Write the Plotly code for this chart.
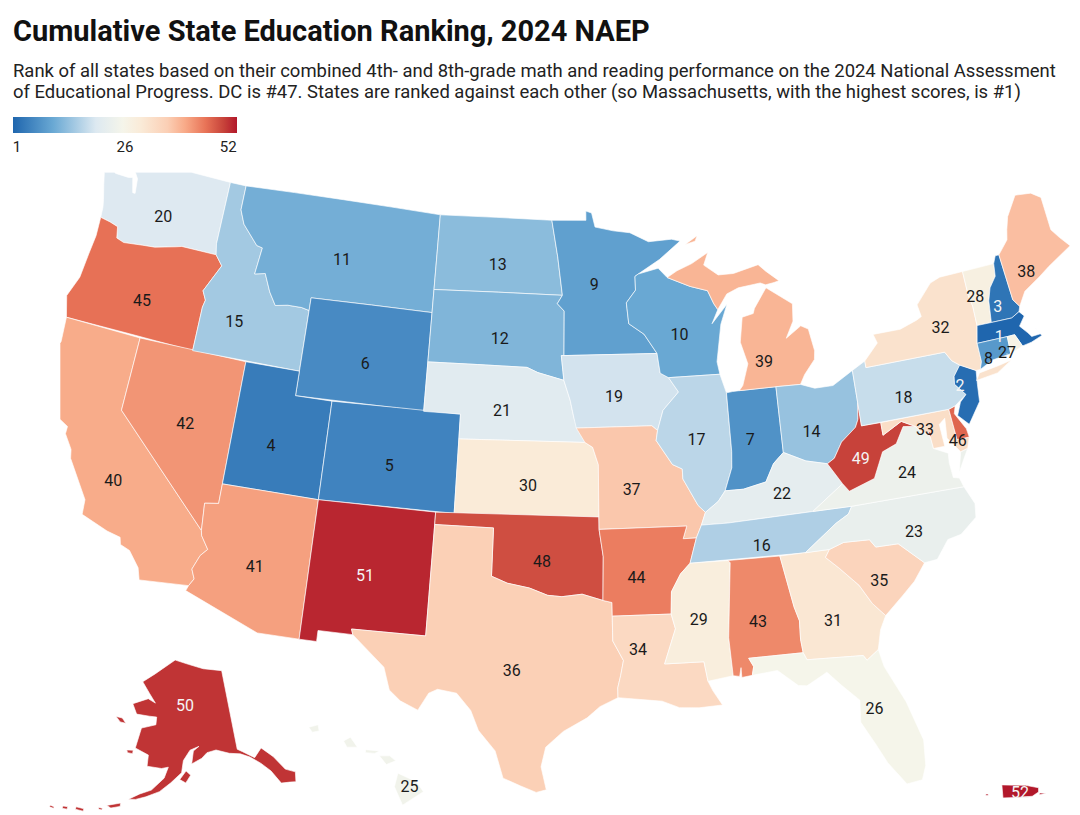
import plotly.graph_objects as go
from plotly.colors import sample_colorscale

TITLE = "<b>Cumulative State Education Ranking, 2024 NAEP</b>"
SUBTITLE_1 = "Rank of all states based on their combined 4th- and 8th-grade math and reading performance on the 2024 National Assessment"
SUBTITLE_2 = "of Educational Progress. DC is #47. States are ranked against each other (so Massachusetts, with the highest scores, is #1)"

states = ["WA","OR","CA","NV","ID","MT","WY","UT","CO","AZ","NM","ND","SD","NE","KS","OK","TX","MN","IA","MO","AR","LA",
          "WI","IL","IN","MI","OH","KY","TN","MS","AL","GA","FL","SC","NC","VA","WV","MD","DE","DC","PA","NJ","NY","VT",
          "NH","ME","MA","CT","RI"]
ranks = [20,45,40,42,15,11,6,4,5,41,51,13,12,21,30,48,36,9,19,37,44,34,
         10,17,7,39,14,22,16,29,43,31,26,35,23,24,49,33,46,47,18,2,32,28,
         3,38,1,8,27]
ak_rank = 50
hi_rank = 25
pr_rank = 52

label_lon = [-120.45,-120.4,-119.5,-116.55,-115.1,-109.6,-107.5,-111.9,-105.6,-111.7,-106.25,-100.4,-100.1,-99.8,-98.3,-97.5,-98.85,-94.7,-93.7,-92.9,-92.8,-92.85,
             -89.9,-89.35,-86.5,-85.3,-83.2,-85.15,-86.45,-89.85,-87.0,-83.4,-82.05,-80.9,-78.8,-78.6,-80.85,-77.25,-75.7,-77.0,-78.05,-74.95,-75.3,-73.0,
             -71.9,-69.85,-72.25,-73.1,-72.05]
label_lat = [46.95,43.42,36.12,39.03,43.45,46.67,42.6,38.8,38.63,33.9,34.15,47.07,44.07,41.17,38.2,35.13,30.73,46.3,41.75,38.0,34.45,31.57,
             44.15,39.9,39.7,42.75,39.75,37.4,35.43,32.65,32.4,32.1,28.3,33.4,35.13,37.5,38.37,39.07,38.35,38.9,40.5,40.5,42.95,43.85,
             43.25,44.3,42.05,41.3,41.35]
white_labels = [1, 2, 3, 49, 50, 51, 52]

# rank colours, blue for the top of the table and red for the bottom
rank_colorscale = [[0.0,"#1f66ae"],[0.18,"#6aa9d4"],[0.37,"#dde9f1"],[0.49,"#f5f5ea"],[0.57,"#faebd8"],
                   [0.69,"#fbcfb5"],[0.77,"#f8a987"],[0.86,"#e87357"],[0.94,"#c7433a"],[1.0,"#b2182b"]]

# state outlines, lon/lat, extra parts are separate rings
outlines = {
"WA":[[(-124.7,48.38),(-123.9,48.16),(-123.1,48.15),(-122.85,48.2),(-122.6,47.6),(-122.45,47.6),(-122.55,48.2),(-122.85,48.5),(-122.76,49.0),(-117.03,49.0),(-117.04,46.43),(-116.92,45.99),(-118.98,46.0),(-119.3,45.93),(-120.5,45.7),(-121.2,45.65),(-122.3,45.55),(-122.76,45.65),(-122.9,46.1),(-123.4,46.2),(-124.0,46.27),(-124.05,46.7),(-124.15,47.0),(-124.4,47.6)]],
"OR":[[(-124.0,46.27),(-123.4,46.2),(-122.9,46.1),(-122.76,45.65),(-122.3,45.55),(-121.2,45.65),(-120.5,45.7),(-119.3,45.93),(-118.98,46.0),(-116.92,45.99),(-116.46,45.6),(-116.85,45.0),(-117.2,44.45),(-116.95,44.1),(-117.03,43.8),(-117.03,42.0),(-124.21,42.0),(-124.55,42.84),(-124.15,43.7),(-124.05,44.7),(-123.95,45.5)]],
"CA":[[(-124.21,42.0),(-120.0,42.0),(-120.0,39.0),(-114.63,35.0),(-114.57,34.8),(-114.14,34.3),(-114.45,34.0),(-114.72,33.4),(-114.52,33.03),(-114.72,32.72),(-117.12,32.53),(-117.3,33.0),(-117.9,33.6),(-118.4,33.75),(-118.5,34.03),(-119.2,34.15),(-120.6,34.55),(-120.65,35.15),(-121.9,36.6),(-122.0,36.95),(-122.5,37.5),(-122.5,37.8),(-123.0,38.0),(-123.75,38.95),(-123.85,39.8),(-124.35,40.3),(-124.1,41.0)]],
"NV":[[(-120.0,42.0),(-114.04,42.0),(-114.04,36.2),(-114.74,36.1),(-114.63,35.0),(-120.0,39.0)]],
"ID":[[(-117.03,49.0),(-116.05,49.0),(-116.05,48.0),(-115.7,47.45),(-114.7,46.7),(-114.35,46.65),(-114.5,45.55),(-113.9,45.65),(-113.45,44.95),(-113.0,44.45),(-112.3,44.55),(-111.5,44.55),(-111.05,44.48),(-111.05,42.0),(-117.03,42.0),(-117.03,43.8),(-116.95,44.1),(-117.2,44.45),(-116.85,45.0),(-116.46,45.6),(-116.92,45.99),(-117.04,46.43)]],
"MT":[[(-116.05,49.0),(-104.05,49.0),(-104.05,45.0),(-111.05,45.0),(-111.05,44.48),(-111.5,44.55),(-112.3,44.55),(-113.0,44.45),(-113.45,44.95),(-113.9,45.65),(-114.5,45.55),(-114.35,46.65),(-114.7,46.7),(-115.7,47.45),(-116.05,48.0)]],
"WY":[[(-111.05,45.0),(-104.05,45.0),(-104.05,41.0),(-111.05,41.0)]],
"UT":[[(-114.04,42.0),(-111.05,42.0),(-111.05,41.0),(-109.05,41.0),(-109.05,37.0),(-114.04,37.0)]],
"CO":[[(-109.05,41.0),(-102.05,41.0),(-102.05,37.0),(-109.05,37.0)]],
"AZ":[[(-114.04,37.0),(-109.05,37.0),(-109.05,31.33),(-111.07,31.33),(-114.81,32.5),(-114.72,32.72),(-114.52,33.03),(-114.72,33.4),(-114.45,34.0),(-114.14,34.3),(-114.57,34.8),(-114.63,35.0),(-114.74,36.1),(-114.04,36.2)]],
"NM":[[(-109.05,37.0),(-103.0,37.0),(-103.04,32.0),(-106.62,32.0),(-106.53,31.78),(-108.21,31.78),(-108.21,31.33),(-109.05,31.33)]],
"ND":[[(-104.05,49.0),(-97.23,49.0),(-96.85,47.5),(-96.56,45.94),(-104.05,45.94)]],
"SD":[[(-104.05,45.94),(-96.56,45.94),(-96.85,45.6),(-96.45,45.3),(-96.45,43.5),(-96.6,43.5),(-96.45,42.5),(-97.9,42.8),(-98.5,43.0),(-104.05,43.0)]],
"NE":[[(-104.05,43.0),(-98.5,43.0),(-97.9,42.8),(-96.45,42.5),(-96.1,41.7),(-95.9,41.0),(-95.31,40.0),(-102.05,40.0),(-102.05,41.0),(-104.05,41.0)]],
"KS":[[(-102.05,40.0),(-95.31,40.0),(-94.9,39.8),(-94.61,39.1),(-94.62,37.0),(-102.05,37.0)]],
"OK":[[(-103.0,37.0),(-94.62,37.0),(-94.62,36.5),(-94.43,35.4),(-94.48,33.64),(-95.5,33.9),(-96.5,33.8),(-97.2,33.85),(-98.1,34.13),(-99.2,34.3),(-100.0,34.56),(-100.0,36.5),(-103.0,36.5)]],
"TX":[[(-103.0,36.5),(-100.0,36.5),(-100.0,34.56),(-99.2,34.3),(-98.1,34.13),(-97.2,33.85),(-96.5,33.8),(-95.5,33.9),(-94.48,33.64),(-94.04,33.55),(-94.04,32.0),(-93.55,31.2),(-93.7,30.6),(-93.85,30.1),(-93.85,29.7),(-94.7,29.35),(-95.3,28.9),(-96.4,28.35),(-97.2,27.7),(-97.4,26.9),(-97.15,25.96),(-97.6,25.85),(-98.3,26.1),(-99.1,26.4),(-99.5,27.5),(-100.3,28.3),(-100.7,29.1),(-101.4,29.77),(-102.3,29.88),(-102.7,29.7),(-103.15,28.98),(-104.0,29.3),(-104.55,29.7),(-104.9,30.6),(-106.0,31.4),(-106.53,31.78),(-106.62,32.0),(-103.04,32.0)]],
"MN":[[(-97.23,49.0),(-95.15,49.0),(-95.15,49.38),(-94.8,49.3),(-94.6,48.72),(-93.5,48.55),(-92.5,48.45),(-91.4,48.05),(-90.0,48.1),(-89.5,48.0),(-90.8,47.3),(-92.1,46.75),(-92.29,46.66),(-92.29,46.1),(-92.85,45.6),(-92.75,44.75),(-91.9,44.3),(-91.22,43.5),(-96.45,43.5),(-96.45,45.3),(-96.85,45.6),(-96.56,45.94),(-96.85,47.5)]],
"IA":[[(-96.45,43.5),(-91.22,43.5),(-91.1,42.7),(-90.65,42.5),(-90.15,41.9),(-91.05,41.2),(-91.4,40.4),(-91.7,40.6),(-95.77,40.58),(-95.9,41.0),(-96.1,41.7),(-96.45,42.5),(-96.6,43.5)]],
"MO":[[(-95.77,40.58),(-91.7,40.6),(-91.4,40.4),(-91.5,40.0),(-90.7,39.0),(-90.2,38.8),(-90.2,38.4),(-89.5,37.3),(-89.15,37.0),(-89.4,36.5),(-89.7,36.0),(-90.37,36.0),(-90.15,36.5),(-94.62,36.5),(-94.62,37.0),(-94.61,39.1),(-94.9,39.8),(-95.31,40.0)]],
"AR":[[(-94.62,36.5),(-90.15,36.5),(-90.37,36.0),(-89.7,36.0),(-90.1,35.0),(-90.6,34.6),(-91.1,33.9),(-91.17,33.0),(-94.04,33.0),(-94.04,33.55),(-94.48,33.64),(-94.43,35.4)]],
"LA":[[(-94.04,33.0),(-91.17,33.0),(-91.0,32.4),(-91.6,31.0),(-89.73,31.0),(-89.6,30.2),(-89.4,29.8),(-89.0,29.2),(-90.1,29.15),(-91.0,29.2),(-91.8,29.5),(-92.3,29.55),(-93.85,29.7),(-93.85,30.1),(-93.7,30.6),(-93.55,31.2),(-94.04,32.0)]],
"WI":[[(-92.29,46.66),(-92.1,46.75),(-90.9,46.95),(-90.4,46.55),(-89.1,46.13),(-88.1,45.9),(-87.8,45.35),(-87.6,45.1),(-88.0,44.55),(-87.05,45.28),(-87.5,44.5),(-87.9,43.0),(-87.8,42.49),(-90.65,42.5),(-91.1,42.7),(-91.22,43.5),(-91.9,44.3),(-92.75,44.75),(-92.85,45.6),(-92.29,46.1)]],
"IL":[[(-90.65,42.5),(-87.8,42.49),(-87.53,41.72),(-87.53,39.35),(-87.6,38.7),(-88.05,37.8),(-88.45,37.4),(-89.15,37.0),(-89.5,37.3),(-90.2,38.4),(-90.2,38.8),(-90.7,39.0),(-91.5,40.0),(-91.4,40.4),(-91.05,41.2),(-90.15,41.9)]],
"IN":[[(-87.53,41.72),(-87.2,41.75),(-86.82,41.76),(-84.8,41.76),(-84.82,39.1),(-85.4,38.7),(-85.9,38.0),(-87.1,37.8),(-88.05,37.8),(-87.6,38.7),(-87.53,39.35)]],
"MI":[[(-86.82,41.76),(-84.8,41.76),(-83.45,41.73),(-83.15,42.1),(-82.5,42.65),(-82.42,43.0),(-82.6,43.9),(-83.0,44.07),(-83.9,43.65),(-83.4,44.3),(-83.3,45.0),(-84.7,45.78),(-85.5,45.0),(-85.6,44.8),(-86.25,44.7),(-86.5,43.7),(-86.2,42.8),(-86.6,41.95)],
      [(-90.4,46.55),(-89.1,46.13),(-88.1,45.9),(-87.8,45.35),(-87.6,45.1),(-87.0,45.7),(-86.3,45.9),(-85.0,46.0),(-84.7,45.9),(-84.2,45.95),(-83.9,46.0),(-84.6,46.45),(-85.0,46.75),(-86.5,46.5),(-87.4,46.5),(-88.2,46.95),(-87.9,47.45),(-88.9,47.05),(-89.8,46.8)],
      [(-89.2,47.85),(-88.45,48.17),(-88.6,47.95)]],
"OH":[[(-84.8,41.76),(-83.45,41.73),(-82.7,41.5),(-81.7,41.5),(-80.52,41.98),(-80.52,40.64),(-80.65,40.0),(-80.85,39.7),(-81.7,39.2),(-82.2,38.6),(-82.6,38.42),(-83.7,38.65),(-84.82,39.1)]],
"KY":[[(-89.15,37.0),(-88.45,37.4),(-88.05,37.8),(-87.1,37.8),(-85.9,38.0),(-85.4,38.7),(-84.82,39.1),(-83.7,38.65),(-82.6,38.42),(-81.97,37.54),(-83.68,36.6),(-88.07,36.5),(-89.4,36.5)]],
"TN":[[(-89.7,36.0),(-89.4,36.5),(-88.07,36.5),(-83.68,36.6),(-81.68,36.59),(-81.9,36.3),(-82.6,36.0),(-84.32,34.99),(-90.1,35.0)]],
"MS":[[(-90.1,35.0),(-88.2,35.0),(-88.1,34.9),(-88.47,31.9),(-88.4,30.35),(-89.6,30.2),(-89.73,31.0),(-91.6,31.0),(-91.0,32.4),(-91.17,33.0),(-91.1,33.9),(-90.6,34.6)]],
"AL":[[(-88.2,35.0),(-85.6,34.98),(-85.18,32.87),(-85.0,32.3),(-85.05,31.55),(-85.0,31.0),(-87.6,31.0),(-87.4,30.65),(-87.5,30.3),(-88.0,30.25),(-88.0,30.65),(-88.1,30.3),(-88.4,30.35),(-88.47,31.9),(-88.1,34.9)]],
"GA":[[(-85.6,34.98),(-83.1,35.0),(-83.35,34.7),(-82.75,34.2),(-81.9,33.4),(-81.4,32.6),(-80.85,32.03),(-81.2,31.5),(-81.45,30.72),(-82.05,30.36),(-82.2,30.57),(-84.86,30.7),(-85.0,31.0),(-85.05,31.55),(-85.0,32.3),(-85.18,32.87)]],
"FL":[[(-87.5,30.3),(-87.4,30.65),(-87.6,31.0),(-85.0,31.0),(-84.86,30.7),(-82.2,30.57),(-82.05,30.36),(-81.45,30.72),(-81.3,30.0),(-80.55,28.45),(-80.05,26.8),(-80.15,25.75),(-80.4,25.2),(-81.1,25.13),(-81.8,26.1),(-82.2,26.9),(-82.75,27.9),(-82.65,28.8),(-83.4,29.5),(-84.0,30.1),(-85.0,29.65),(-85.4,29.7),(-86.3,30.4)]],
"SC":[[(-83.1,35.0),(-82.35,35.2),(-81.05,35.15),(-80.8,34.82),(-79.67,34.8),(-78.55,33.86),(-79.2,33.2),(-79.9,32.7),(-80.85,32.03),(-81.4,32.6),(-81.9,33.4),(-82.75,34.2),(-83.35,34.7)]],
"NC":[[(-84.32,34.99),(-83.1,35.0),(-82.35,35.2),(-81.05,35.15),(-80.8,34.82),(-79.67,34.8),(-78.55,33.86),(-77.9,33.9),(-77.2,34.6),(-76.5,34.7),(-75.6,35.25),(-75.5,35.8),(-75.87,36.55),(-81.68,36.59),(-81.9,36.3),(-82.6,36.0)]],
"VA":[[(-83.68,36.6),(-81.68,36.59),(-75.87,36.55),(-76.0,36.93),(-76.3,37.0),(-76.35,37.6),(-76.3,38.0),(-77.0,38.3),(-77.05,38.85),(-77.5,39.1),(-77.72,39.32),(-78.35,39.4),(-78.87,38.77),(-79.65,38.55),(-80.3,37.55),(-81.68,37.2),(-81.97,37.54)],
      [(-75.95,37.15),(-75.6,37.6),(-75.25,38.03),(-75.65,37.95)]],
"WV":[[(-82.6,38.42),(-81.97,37.54),(-81.68,37.2),(-80.3,37.55),(-79.65,38.55),(-78.87,38.77),(-78.35,39.4),(-77.72,39.32),(-78.4,39.62),(-79.48,39.2),(-79.48,39.72),(-80.52,39.72),(-80.52,40.64),(-80.65,40.0),(-80.85,39.7),(-81.7,39.2),(-82.2,38.6)]],
"MD":[[(-79.48,39.72),(-75.79,39.72),(-75.7,38.46),(-75.05,38.45),(-75.25,38.03),(-75.65,37.95),(-76.2,38.6),(-76.1,39.4),(-76.45,39.2),(-76.4,38.3),(-77.0,38.3),(-77.05,38.85),(-77.5,39.1),(-77.72,39.32),(-78.4,39.62),(-79.48,39.2)]],
"DE":[[(-75.79,39.72),(-75.42,39.8),(-75.55,39.5),(-75.1,38.8),(-75.05,38.45),(-75.7,38.46)]],
"DC":[[(-77.12,38.93),(-77.04,39.0),(-76.91,38.89),(-77.04,38.79)]],
"PA":[[(-80.52,41.98),(-79.76,42.27),(-79.76,42.0),(-75.35,42.0),(-75.07,41.6),(-74.7,41.36),(-75.13,40.97),(-75.2,40.65),(-74.72,40.15),(-75.42,39.8),(-75.79,39.72),(-80.52,39.72)]],
"NJ":[[(-74.7,41.36),(-73.9,41.0),(-74.0,40.45),(-74.1,39.75),(-74.9,38.95),(-75.4,39.4),(-75.1,39.9),(-74.72,40.15),(-75.2,40.65),(-75.13,40.97)]],
"NY":[[(-79.76,42.27),(-78.9,42.9),(-79.05,43.27),(-77.5,43.27),(-76.5,43.5),(-76.2,43.6),(-76.3,44.1),(-75.3,44.85),(-74.7,45.0),(-73.35,45.01),(-73.35,44.0),(-73.25,43.55),(-73.27,42.75),(-73.5,42.05),(-73.5,41.3),(-73.66,41.0),(-73.9,41.0),(-74.7,41.36),(-75.07,41.6),(-75.35,42.0),(-79.76,42.0)],
      [(-74.0,40.6),(-73.75,40.87),(-72.6,40.98),(-71.9,41.07),(-72.8,40.7)]],
"VT":[[(-73.35,45.01),(-71.5,45.01),(-71.6,44.5),(-72.05,44.1),(-72.3,43.6),(-72.46,42.73),(-73.27,42.75),(-73.25,43.55),(-73.35,44.0)]],
"NH":[[(-71.5,45.01),(-71.3,45.3),(-71.08,45.3),(-70.98,43.4),(-70.7,43.07),(-70.82,42.87),(-71.3,42.7),(-72.46,42.73),(-72.3,43.6),(-72.05,44.1),(-71.6,44.5)]],
"ME":[[(-71.08,45.3),(-70.4,45.8),(-70.25,46.2),(-70.0,46.7),(-69.23,47.46),(-68.3,47.36),(-67.79,47.07),(-67.79,45.7),(-67.45,45.3),(-67.0,44.85),(-68.5,44.3),(-69.2,44.0),(-70.2,43.6),(-70.7,43.07),(-70.98,43.4)]],
"MA":[[(-73.5,42.05),(-73.27,42.75),(-72.46,42.73),(-71.3,42.7),(-70.82,42.87),(-70.6,42.65),(-71.0,42.3),(-70.65,41.95),(-70.5,41.77),(-70.0,41.78),(-70.2,42.07),(-69.95,41.7),(-70.6,41.55),(-71.12,41.5),(-71.38,42.02),(-71.8,42.02)]],
"CT":[[(-73.5,42.05),(-71.8,42.02),(-71.85,41.32),(-72.9,41.25),(-73.66,41.0),(-73.5,41.3)]],
"RI":[[(-71.8,42.02),(-71.38,42.02),(-71.12,41.5),(-71.85,41.32)]],
}
hi_outline = [
    [(-155.9,20.25),(-155.1,19.9),(-154.8,19.5),(-155.7,18.95),(-156.05,19.7)],
    [(-156.7,20.95),(-156.25,20.95),(-156.0,20.75),(-156.4,20.6)],
    [(-158.25,21.55),(-157.95,21.7),(-157.65,21.3),(-158.1,21.3)],
    [(-159.75,22.1),(-159.35,22.2),(-159.3,21.95),(-159.6,21.9)],
    [(-157.3,21.2),(-156.7,21.15),(-156.9,21.05),(-157.3,21.08)],
]
ak_outline = [
    [(-141.0,69.65),(-141.0,60.3),(-139.9,59.9),(-137.5,58.9),(-135.5,59.8),(-133.4,58.4),(-131.8,56.6),(-130.0,55.9),(-130.6,54.8),(-131.8,55.0),(-133.5,55.2),(-134.8,56.9),(-136.5,58.1),(-138.5,59.1),(-140.5,59.7),(-143.0,60.0),(-146.0,60.6),(-148.2,60.4),(-149.5,59.8),(-151.9,59.2),(-151.4,60.7),(-150.0,61.2),(-152.2,60.8),(-153.8,59.6),(-154.2,58.2),(-156.5,57.0),(-158.8,55.9),(-161.5,55.15),(-163.5,54.7),(-164.9,54.6),(-162.8,55.4),(-160.5,56.0),(-158.0,57.5),(-157.2,58.8),(-158.7,58.6),(-162.0,58.7),(-162.0,60.0),(-165.3,60.6),(-164.6,63.0),(-161.0,63.6),(-161.0,64.5),(-163.0,64.5),(-166.5,64.5),(-168.1,65.6),(-164.0,66.5),(-161.8,66.1),(-163.8,67.1),(-166.5,68.35),(-163.0,69.5),(-156.6,71.35),(-152.0,70.85),(-147.0,70.2)],
    [(-154.6,57.4),(-153.2,58.4),(-152.2,57.9),(-153.3,57.0)],
    [(-171.7,63.7),(-170.0,63.7),(-168.8,63.2),(-170.3,63.2)],
    [(-167.2,60.2),(-165.7,60.3),(-165.7,59.9),(-166.9,59.9)],
    [(-168.9,53.4),(-166.3,54.0),(-166.3,53.6),(-168.0,53.2)],
    [(-170.3,52.95),(-169.6,52.95),(-169.6,52.75),(-170.3,52.75)],
    [(-174.5,52.3),(-173.0,52.35),(-173.0,52.05),(-174.5,52.0)],
    [(-176.9,51.9),(-176.0,52.0),(-176.0,51.7),(-176.9,51.6)],
    [(-179.2,51.45),(-178.4,51.45),(-178.4,51.25),(-179.2,51.25)],
]
pr_outline = [
    [(-67.25,18.5),(-66.2,18.48),(-65.62,18.38),(-65.62,18.2),(-65.9,18.02),(-66.6,17.97),(-67.2,17.95)],
    [(-65.58,18.16),(-65.28,18.15),(-65.58,18.08)],
    [(-67.96,18.12),(-67.86,18.12),(-67.86,18.05),(-67.96,18.05)],
]
ak_label = (-153.3, 65.8)
hi_label = (-155.4, 19.65)
pr_label = (-66.45, 18.12)

PAGE_MARGIN = 8  # the page body pushes the plot 8px right and down


def px(x):
    return (x - PAGE_MARGIN) / 1080


def py(y):
    return 1 - (y - PAGE_MARGIN) / 815


fig = go.Figure()


def clockwise(ring):
    # d3 fills the outside of a ring that runs the wrong way round
    area = sum(a[0] * b[1] - b[0] * a[1] for a, b in zip(ring, ring[1:] + ring[:1]))
    return ring if area < 0 else ring[::-1]


def add_ring(ring, color, geo="geo"):
    ring = clockwise(ring)
    ring = ring + ring[:1]
    fig.add_trace(go.Scattergeo(
        lon=[p[0] for p in ring], lat=[p[1] for p in ring],
        mode="lines", fill="toself", fillcolor=color,
        line=dict(color="rgba(255,255,255,0.8)", width=0.8),
        hoverinfo="skip", showlegend=False, geo=geo,
    ))


def rank_color(r):
    return sample_colorscale(rank_colorscale, [(r - 1) / 51])[0]


for st, r in zip(states, ranks):
    for ring in outlines[st]:
        add_ring(ring, rank_color(r))
for ring in pr_outline:
    add_ring(ring, rank_color(pr_rank), "geo2")
for ring in ak_outline:
    add_ring(ring, rank_color(ak_rank), "geo3")
for ring in hi_outline:
    add_ring(ring, rank_color(hi_rank), "geo4")

# labels, DC has none on the map
label_idx = [i for i, st in enumerate(states) if st != "DC"]
fig.add_trace(go.Scattergeo(
    lon=[label_lon[i] for i in label_idx],
    lat=[label_lat[i] for i in label_idx],
    text=[str(ranks[i]) for i in label_idx],
    mode="markers+text", textposition="middle center",
    textfont=dict(family="Roboto", size=16,
                  color=["#f5f5f5" if ranks[i] in white_labels else "#1a1a1a" for i in label_idx]),
    marker=dict(size=1, color=[ranks[i] for i in label_idx], cmin=1, cmax=52, colorscale=rank_colorscale,
                colorbar=dict(orientation="h", x=px(13), xanchor="left", y=py(117), yanchor="top",
                              lenmode="pixels", len=224, thickness=16, xpad=0, ypad=0,
                              tickvals=[1.9, 26.5, 50], ticktext=["1", "26", "52"], ticks="", outlinewidth=0,
                              tickfont=dict(family="Roboto", size=15, color="#222222"))),
    hoverinfo="skip", showlegend=False,
))
for lab, r, g in [(ak_label, ak_rank, "geo3"), (pr_label, pr_rank, "geo2"), (hi_label, hi_rank, "geo4")]:
    fig.add_trace(go.Scattergeo(
        lon=[lab[0]], lat=[lab[1]], text=[str(r)], mode="text", geo=g,
        textfont=dict(family="Roboto", size=16, color="#f5f5f5" if r in white_labels else "#1a1a1a"),
        hoverinfo="skip", showlegend=False,
    ))

no_layers = dict(showland=False, showocean=False, showlakes=False, showrivers=False, showcoastlines=False,
                 showcountries=False, showsubunits=False, showframe=False, bgcolor="rgba(0,0,0,0)")
fig.update_layout(
    width=1080, height=815,
    margin=dict(l=0, r=0, t=0, b=0),
    paper_bgcolor="white",
    font=dict(family="Roboto"),
    geo=dict(projection=dict(type="albers", parallels=[29.5, 45.5], rotation=dict(lon=-96)),
             lonaxis=dict(range=[-119.7, -73.6]), lataxis=dict(range=[25.7, 50]),
             domain=dict(x=[px(60), px(1084)], y=[py(823), py(169)]), **no_layers),
    geo2=dict(projection=dict(type="mercator"), lonaxis=dict(range=[-68.0, -65.2]), lataxis=dict(range=[17.7, 18.7]),
              domain=dict(x=[px(985), px(1048)], y=[py(804), py(780)]), **no_layers),
    geo3=dict(projection=dict(type="albers", parallels=[55, 65], rotation=dict(lon=-154)),
              lonaxis=dict(range=[-188, -130]), lataxis=dict(range=[54, 70.8]),
              domain=dict(x=[px(41), px(324)], y=[py(823), py(650)]), **no_layers),
    geo4=dict(projection=dict(type="mercator"), lonaxis=dict(range=[-160, -154.6]), lataxis=dict(range=[18.7, 22.3]),
              domain=dict(x=[px(303), px(428)], y=[py(812), py(722)]), **no_layers),
    annotations=[
        dict(text=TITLE, x=px(11), y=py(31), xref="paper", yref="paper", xanchor="left", yanchor="middle",
             showarrow=False, font=dict(family="Roboto", size=29, color="#111111")),
        dict(text=SUBTITLE_1, x=px(11), y=py(71), xref="paper", yref="paper", xanchor="left", yanchor="middle",
             showarrow=False, font=dict(family="Roboto", size=18.45, color="#222222")),
        dict(text=SUBTITLE_2, x=px(11), y=py(92), xref="paper", yref="paper", xanchor="left", yanchor="middle",
             showarrow=False, font=dict(family="Roboto", size=18.45, color="#222222")),
    ],
)
fig.write_html("out.html")
